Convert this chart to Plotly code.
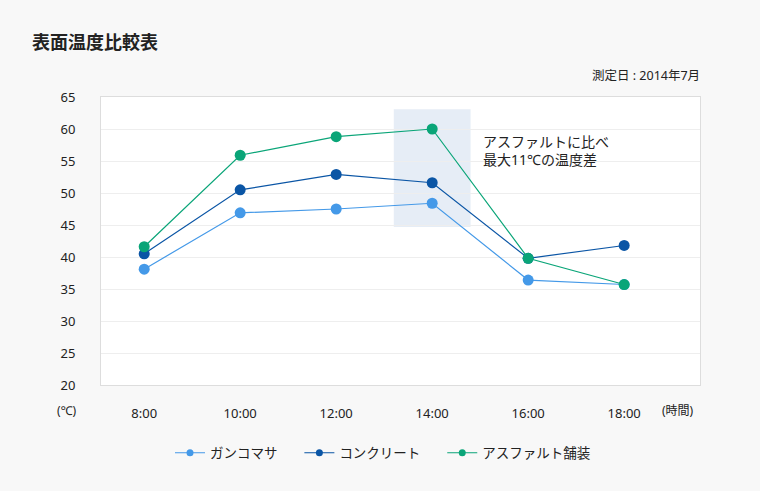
import plotly.graph_objects as go

categories = ["8:00", "10:00", "12:00", "14:00", "16:00", "18:00"]
gankomasa = [38.1, 46.9, 47.5, 48.4, 36.4, 35.7]
concrete = [40.5, 50.5, 52.9, 51.6, 39.8, 41.8]
asphalt = [41.6, 55.9, 58.8, 60.0, 39.8, 35.7]
y_ticks = [20, 25, 30, 35, 40, 45, 50, 55, 60, 65]

FONT = "Noto Sans, Noto Sans CJK JP, sans-serif"
xs = list(range(len(categories)))

fig = go.Figure()
series = [
    ("ガンコマサ", gankomasa, "#4499e8"),
    ("コンクリート", concrete, "#0a55a5"),
    ("アスファルト舗装", asphalt, "#0aa578"),
]
for name, vals, col in series:
    fig.add_trace(go.Scatter(
        x=xs, y=vals, name=name, mode="lines+markers", showlegend=False,
        line=dict(color=col, width=1.2),
        marker=dict(color=col, size=11),
    ))
# legend entries (smaller markers, as in the reference legend)
PAD = "\u3000\u2005"
for i, (name, vals, col) in enumerate(series):
    label = name + (PAD if i < len(series) - 1 else "")
    fig.add_trace(go.Scatter(
        x=[None], y=[None], name=label, mode="lines+markers",
        line=dict(color=col, width=1.2),
        marker=dict(color=col, size=7),
    ))

fig.add_shape(type="rect", xref="x", yref="y", x0=2.6, x1=3.4, y0=44.7, y1=63.1,
              fillcolor="#e6edf6", line=dict(width=0), layer="below")

fig.update_layout(
    width=760, height=491,
    margin=dict(l=101, r=60, t=97, b=106),
    paper_bgcolor="#f8f8f8", plot_bgcolor="#ffffff",
    font=dict(family=FONT, size=13, color="#222"),
    showlegend=True,
    legend=dict(orientation="h", x=(383 - 101) / 599, xanchor="center", y=-0.236, yanchor="middle",
                font=dict(size=13.5, color="#222"), itemwidth=30,
                bgcolor="rgba(0,0,0,0)"),
    xaxis=dict(range=[-0.45, 5.79], tickvals=xs, ticktext=categories,
               showgrid=False, zeroline=False, showline=True, mirror=True,
               linecolor="#dddddd", linewidth=1, ticks="", ticklabelstandoff=16,
               tickfont=dict(size=13, color="#222")),
    yaxis=dict(range=[20, 65], tickvals=y_ticks, showgrid=True, gridcolor="#eeeeee",
               zeroline=False, showline=True, mirror=True, linecolor="#dddddd", linewidth=1,
               ticks="", ticklabelstandoff=22, tickfont=dict(size=13, color="#222")),
    annotations=[
        dict(text="<b>表面温度比較表</b>", xref="paper", yref="paper", x=-71/599, y=(385-42)/288,
             xanchor="left", yanchor="middle", showarrow=False, font=dict(size=18, color="#222")),
        dict(text="測定日 : 2014年7月", xref="paper", yref="paper", x=1.003, y=(385-75)/288,
             xanchor="right", yanchor="middle", showarrow=False, font=dict(size=12.5, color="#222")),
        dict(text="アスファルトに比べ<br>最大11℃の温度差", xref="x", yref="y", x=3.51, y=56.6,
             xanchor="left", yanchor="middle", align="left", showarrow=False,
             font=dict(size=14, color="#222")),
        dict(text="(℃)", xref="paper", yref="paper", x=-46/599, y=(385-410)/288,
             xanchor="left", yanchor="middle", showarrow=False, font=dict(size=12, color="#222")),
        dict(text="(時間)", xref="paper", yref="paper", x=(660-101)/599, y=(385-410)/288,
             xanchor="left", yanchor="middle", showarrow=False, font=dict(size=12, color="#222")),
    ],
)

fig.write_html("out.html", config={"displayModeBar": False},
               post_script="document.body.style.margin='0';document.body.style.background='#f8f8f8';")
